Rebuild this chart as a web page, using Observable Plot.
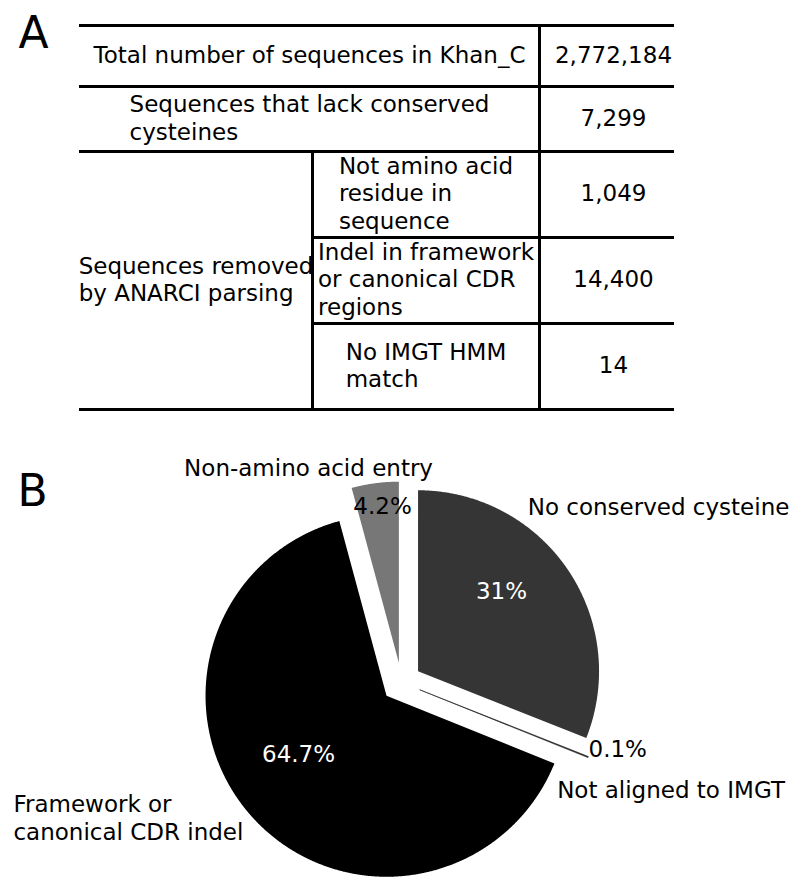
<!DOCTYPE html>
<html><head><meta charset="utf-8">
<script src="https://cdn.jsdelivr.net/npm/d3@7"></script>
<script src="https://cdn.jsdelivr.net/npm/@observablehq/plot@0.6"></script>
<style>html,body{margin:0;padding:0;background:#fff} svg{display:block}</style>
</head><body><div id="chart"></div>
<script>
// ---------- data ----------
const panelLetters = ["A", "B"];
const totalLabel = "Total number of sequences in Khan_C";
const totalSequences = 2772184;
const removalGroupLabels = ["Sequences that lack conserved\ncysteines", "Sequences removed\nby ANARCI parsing"];
const cysteineCount = 7299;
const parsingReasons = ["Not amino acid\nresidue in\nsequence", "Indel in framework\nor canonical CDR\nregions", "No IMGT HMM\nmatch"];
const parsingCounts = [1049, 14400, 14];

const pieCategories = ["No conserved cysteine", "Not aligned to IMGT", "Framework or\ncanonical CDR indel", "Non-amino acid entry"];
const piePercents = [31, 0.1, 64.7, 4.2];

// ---------- styles / layout ----------
const pieColors = ["#353535", "#222222", "#000000", "#777777"];
const pctTextColors = ["#ffffff", "#000000", "#ffffff", "#000000"];
const W = 800, H = 889, FS = 23, LH = 1.2, FONT = "DejaVu Sans";
const rowY = [25, 86, 151, 237, 323, 409];
const colX = [79, 312, 539, 674];
const valueX = 613;
const textNudge = -2;
const pieCenter = [401, 682], R = 181, explode = 20;
// label placements (polar, relative to pie center: degrees clockwise from 12 o'clock, distance px)
const outerPlacement = [
  {deg: 55.6, dist: 311.5, anchor: "middle"},
  {deg: 111.5, dist: 289.7, anchor: "middle"},
  {deg: 250.9, dist: 410.7, anchor: "start"},
  {deg: 336.7, dist: 235, anchor: "middle"}
];
const innerPlacement = [
  {deg: 47.4, dist: 135.9, anchor: "middle"},
  {deg: 109.4, dist: 198.3, anchor: "start"},
  {deg: 235.4, dist: 125.1, anchor: "middle"},
  {deg: 353.9, dist: 178, anchor: "middle"}
];

const fmt = d3.format(",");
const ctx = document.createElement("canvas").getContext("2d");
ctx.font = `${FS}px "${FONT}"`;
const blockWidth = s => d3.max(s.split("\n"), l => ctx.measureText(l).width);

// ---------- table ----------
const labelCells = [
  {text: totalLabel, x0: colX[0], x1: colX[2], y0: rowY[0], y1: rowY[1]},
  {text: removalGroupLabels[0], x0: colX[0], x1: colX[2], y0: rowY[1], y1: rowY[2]},
  {text: removalGroupLabels[1], x0: colX[0], x1: colX[1], y0: rowY[2], y1: rowY[5]},
  ...parsingReasons.map((t, i) => ({text: t, x0: colX[1], x1: colX[2], y0: rowY[2 + i], y1: rowY[3 + i]}))
].map(c => ({...c, x: (c.x0 + c.x1) / 2 - blockWidth(c.text) / 2, y: (c.y0 + c.y1) / 2 + textNudge}));

const valueCells = [totalSequences, cysteineCount, ...parsingCounts].map((v, i) => ({
  text: fmt(v), x: valueX, y: (rowY[i] + rowY[i + 1]) / 2 + textNudge
}));

const hRules = [
  {y: rowY[0], x1: colX[0], x2: colX[3]},
  {y: rowY[1], x1: colX[0], x2: colX[3]},
  {y: rowY[2], x1: colX[0], x2: colX[3]},
  {y: rowY[3], x1: colX[1], x2: colX[3]},
  {y: rowY[4], x1: colX[1], x2: colX[3]},
  {y: rowY[5], x1: colX[0], x2: colX[3]}
];
const vRules = [
  {x: colX[2], y1: rowY[0], y2: rowY[5]},
  {x: colX[1], y1: rowY[2], y2: rowY[5]}
];

// ---------- pie ----------
const polar = (cx, cy, r, a) => [cx + r * Math.sin(a), cy - r * Math.cos(a)];
const arcs = d3.pie().sort(null).value(d => d)(piePercents);
const slices = arcs.map((a, i) => {
  const mid = (a.startAngle + a.endAngle) / 2;
  const [ox, oy] = polar(pieCenter[0], pieCenter[1], explode, mid);
  const n = Math.max(2, Math.ceil((a.endAngle - a.startAngle) / (Math.PI / 720)));
  const pts = [{x: ox, y: oy}];
  for (let j = 0; j <= n; j++) {
    const ang = a.startAngle + (a.endAngle - a.startAngle) * j / n;
    const [x, y] = polar(ox, oy, R, ang);
    pts.push({x, y});
  }
  pts.push({x: ox, y: oy});
  return pts;
});
const rad = d => d * Math.PI / 180;
const place = (p) => polar(pieCenter[0], pieCenter[1], p.dist, rad(p.deg));
const outerLabels = pieCategories.map((t, i) => {
  const [x, y] = place(outerPlacement[i]);
  return {text: t, x, y, anchor: outerPlacement[i].anchor};
});
const innerLabels = piePercents.map((v, i) => {
  const [x, y] = place(innerPlacement[i]);
  return {text: `${v}%`, x, y, fill: pctTextColors[i], anchor: innerPlacement[i].anchor};
});
const letters = [
  {text: panelLetters[0], x: 18, y: 47},
  {text: panelLetters[1], x: 17, y: 505}
];

const textOpts = {x: "x", y: "y", text: "text", fontSize: FS, fontFamily: FONT, lineHeight: LH, lineAnchor: "middle"};

const chart = Plot.plot({
  width: W, height: H, margin: 0,
  x: {domain: [0, W], range: [0, W], axis: null},
  y: {domain: [0, H], range: [0, H], axis: null},
  style: {fontFamily: FONT, background: "#fff"},
  marks: [
    Plot.ruleY(hRules, {y: "y", x1: "x1", x2: "x2", stroke: "#000", strokeWidth: 3}),
    Plot.ruleX(vRules, {x: "x", y1: "y1", y2: "y2", stroke: "#000", strokeWidth: 3}),
    Plot.text(labelCells, {...textOpts, textAnchor: "start"}),
    Plot.text(valueCells, {...textOpts, textAnchor: "middle"}),
    ...slices.map((pts, i) => Plot.line(pts, {x: "x", y: "y", fill: pieColors[i], stroke: i === 1 ? pieColors[i] : "none", strokeWidth: 0.6, curve: "linear"})),
    Plot.text(outerLabels.filter(d => d.anchor === "middle"), {...textOpts, textAnchor: "middle"}),
    Plot.text(outerLabels.filter(d => d.anchor === "start"), {...textOpts, textAnchor: "start"}),
    Plot.text(innerLabels.filter(d => d.anchor === "middle"), {...textOpts, fill: "fill", textAnchor: "middle"}),
    Plot.text(innerLabels.filter(d => d.anchor === "start"), {...textOpts, fill: "fill", textAnchor: "start"}),
    Plot.text(letters, {x: "x", y: "y", text: "text", fontSize: 44, fontFamily: FONT, lineAnchor: "bottom", textAnchor: "start"})
  ]
});
document.getElementById("chart").append(chart);
</script>
</body></html>
